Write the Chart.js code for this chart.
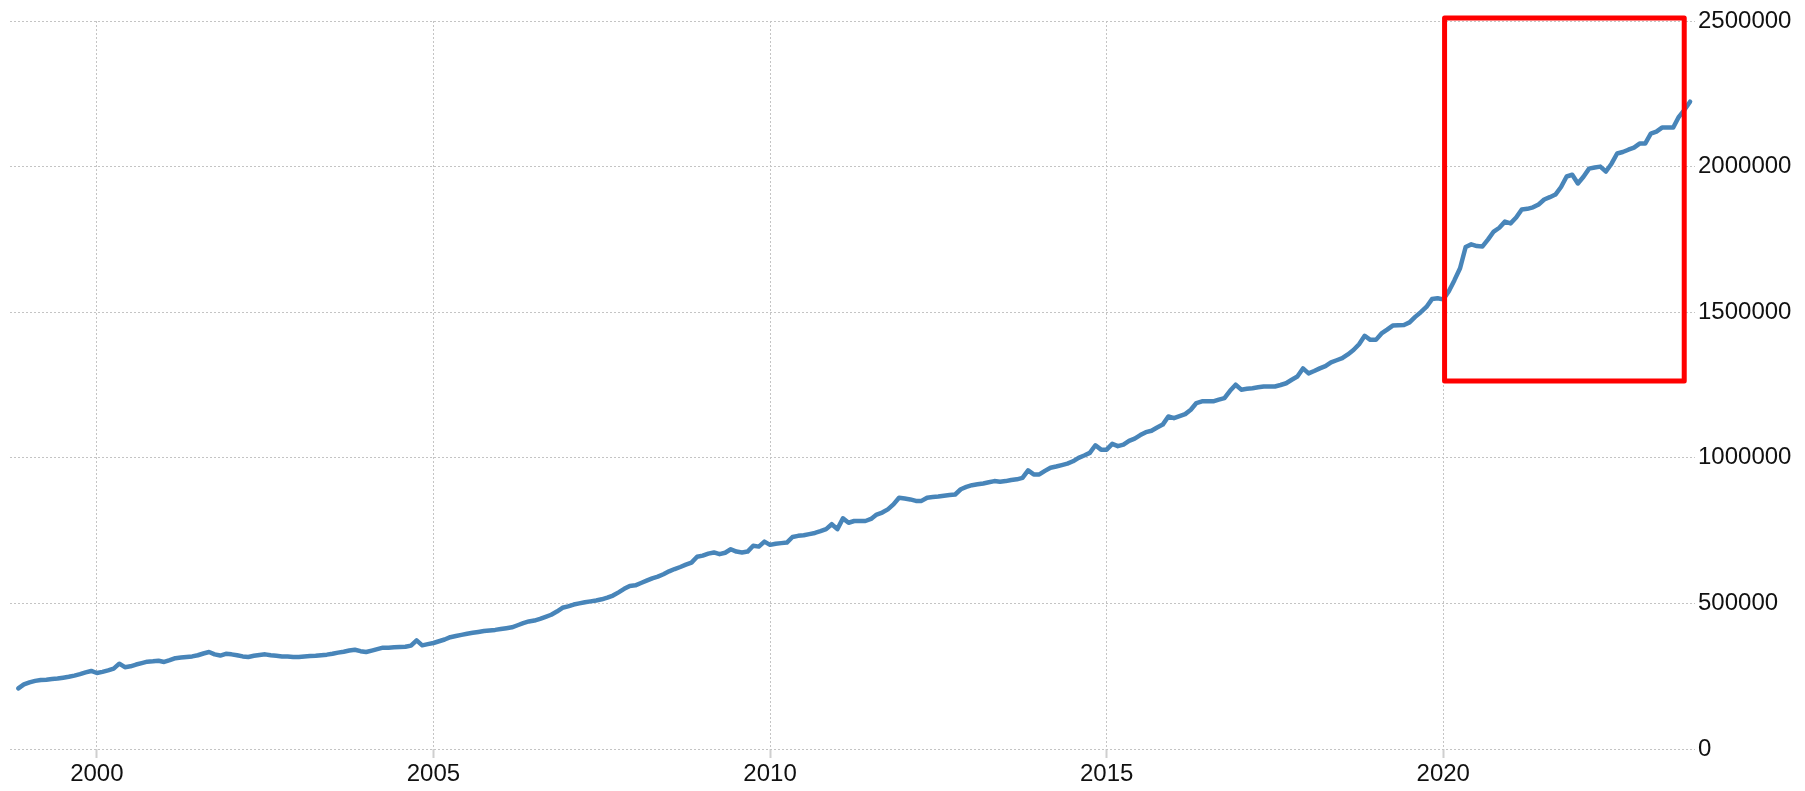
<!DOCTYPE html>
<html>
<head>
<meta charset="utf-8">
<script src="https://cdn.jsdelivr.net/npm/chart.js@4.4.0/dist/chart.umd.min.js"></script>
<style>
  html, body { margin: 0; padding: 0; background: #fff; }
  #wrap { width: 1805px; height: 791px; }
</style>
</head>
<body>
<div id="wrap"><canvas id="money_chart"></canvas></div>
<script>
// monthly series, first value is Nov 1998 (values in thousands)
const startYear = 1998;
const startMonth = 11;

const values1998 = [208, 222];
const values1999 = [229, 234, 237, 238, 240, 242, 245, 248, 252, 257, 263, 268];
const values2000 = [261, 265, 270, 276, 293, 281, 284, 290, 295, 300, 301, 303];
const values2001 = [299, 305, 312, 314, 316, 318, 322, 328, 333, 325, 321, 327];
const values2002 = [325, 322, 318, 316, 320, 323, 325, 322, 320, 318, 318, 316];
const values2003 = [316, 318, 319, 320, 322, 324, 327, 331, 334, 338, 341, 336];
const values2004 = [333, 338, 343, 348, 348, 349, 350, 351, 355, 373, 356, 360];
const values2005 = [364, 370, 376, 384, 388, 392, 396, 399, 402, 405, 407, 409];
const values2006 = [412, 415, 418, 425, 432, 438, 441, 447, 454, 461, 472, 485];
const values2007 = [490, 496, 500, 504, 507, 510, 514, 520, 527, 538, 550, 560];
const values2008 = [562, 570, 578, 586, 592, 600, 610, 618, 625, 633, 640, 660];
const values2009 = [664, 671, 675, 669, 674, 686, 678, 675, 678, 698, 695, 712];
const values2010 = [701, 705, 707, 709, 728, 732, 734, 738, 742, 748, 755, 772];
const values2011 = [755, 792, 777, 783, 783, 783, 790, 805, 812, 823, 840, 863];
const values2012 = [860, 857, 852, 852, 863, 865, 867, 870, 872, 874, 892, 900];
const values2013 = [906, 909, 912, 916, 920, 918, 920, 924, 926, 931, 957, 943];
const values2014 = [943, 955, 966, 970, 975, 980, 988, 1000, 1008, 1017, 1043, 1028];
const values2015 = [1028, 1048, 1040, 1045, 1058, 1066, 1078, 1088, 1093, 1104, 1114, 1142];
const values2016 = [1136, 1143, 1150, 1165, 1188, 1194, 1194, 1194, 1200, 1205, 1230, 1251];
const values2017 = [1234, 1237, 1239, 1242, 1245, 1245, 1245, 1250, 1256, 1268, 1279, 1307];
const values2018 = [1290, 1298, 1307, 1315, 1328, 1335, 1342, 1355, 1370, 1390, 1419, 1405];
const values2019 = [1405, 1427, 1440, 1454, 1455, 1456, 1465, 1484, 1500, 1518, 1545, 1548];
const values2020 = [1544, 1572, 1610, 1651, 1724, 1733, 1727, 1726, 1750, 1777, 1790, 1811];
const values2021 = [1805, 1825, 1853, 1855, 1860, 1870, 1887, 1895, 1904, 1930, 1966, 1972];
const values2022 = [1942, 1965, 1993, 1997, 2000, 1983, 2010, 2045, 2050, 2058, 2065, 2079];
const values2023 = [2079, 2113, 2120, 2134, 2134, 2134, 2171, 2195, 2223];

const yearTicks = [2000, 2005, 2010, 2015, 2020];
const valueTicks = [0, 500000, 1000000, 1500000, 2000000, 2500000];

// highlighted period: from 2020 to the latest readings
const boxFrom = 2020.02;
const boxTo = 2023.58;
const boxLow = 1264000;
const boxHigh = 2510000;

const allValues = [].concat(
    values1998, values1999, values2000, values2001, values2002, values2003,
    values2004, values2005, values2006, values2007, values2008, values2009,
    values2010, values2011, values2012, values2013, values2014, values2015,
    values2016, values2017, values2018, values2019, values2020, values2021,
    values2022, values2023
);

const points = allValues.map((v, i) => ({
    x: startYear + (startMonth - 1 + i) / 12,
    y: v * 1000
}));

const tickFont = { family: '"Liberation Sans", Arial, sans-serif', size: 24 };

const highlightBox = {
    id: 'highlightBox',
    afterDraw(chart) {
        const xs = chart.scales.x;
        const ys = chart.scales.y;
        const ctx = chart.ctx;
        const left = xs.getPixelForValue(boxFrom);
        const right = xs.getPixelForValue(boxTo);
        const top = ys.getPixelForValue(boxHigh);
        const bottom = ys.getPixelForValue(boxLow);
        ctx.save();
        ctx.strokeStyle = '#ff0000';
        ctx.lineWidth = 5;
        ctx.lineJoin = 'round';
        ctx.strokeRect(left, top, right - left, bottom - top);
        ctx.restore();
    }
};

const ctx = document.getElementById('money_chart').getContext('2d');

const moneyChart = new Chart(ctx, {
    type: 'line',
    data: {
        datasets: [{
            data: points,
            borderColor: '#4885b9',
            borderWidth: 4.5,
            borderJoinStyle: 'round',
            borderCapStyle: 'round',
            pointRadius: 0,
            tension: 0,
            fill: false
        }]
    },
    options: {
        responsive: true,
        maintainAspectRatio: false,
        animation: false,
        layout: { padding: { left: 10, top: 21, right: 0, bottom: 0 } },
        plugins: {
            legend: { display: false },
            tooltip: { enabled: false }
        },
        scales: {
            x: {
                type: 'linear',
                min: 1998.71,
                max: 2023.74,
                afterBuildTicks: (scale) => {
                    scale.ticks = yearTicks.map(v => ({ value: v }));
                },
                afterFit: (scale) => { scale.height = 42; },
                ticks: {
                    autoSkip: false,
                    maxRotation: 0,
                    padding: 2,
                    color: '#111',
                    font: tickFont,
                    callback: (v) => String(v)
                },
                grid: {
                    color: '#c4c4c4',
                    lineWidth: 1,
                    tickLength: 9,
                    tickColor: '#cfcfcf',
                    tickWidth: 2,
                    tickBorderDash: []
                },
                border: { display: false, dash: [2, 2] }
            },
            y: {
                position: 'right',
                min: 0,
                max: 2500000,
                afterBuildTicks: (scale) => {
                    scale.ticks = valueTicks.map(v => ({ value: v }));
                },
                afterFit: (scale) => { scale.width = 110; },
                ticks: {
                    padding: 3,
                    color: '#111',
                    font: tickFont,
                    crossAlign: 'near',
                    callback: (v) => String(v)
                },
                grid: {
                    color: '#c4c4c4',
                    lineWidth: 1,
                    drawTicks: false
                },
                border: { display: false, dash: [2, 2] }
            }
        }
    },
    plugins: [highlightBox]
});
</script>
</body>
</html>
